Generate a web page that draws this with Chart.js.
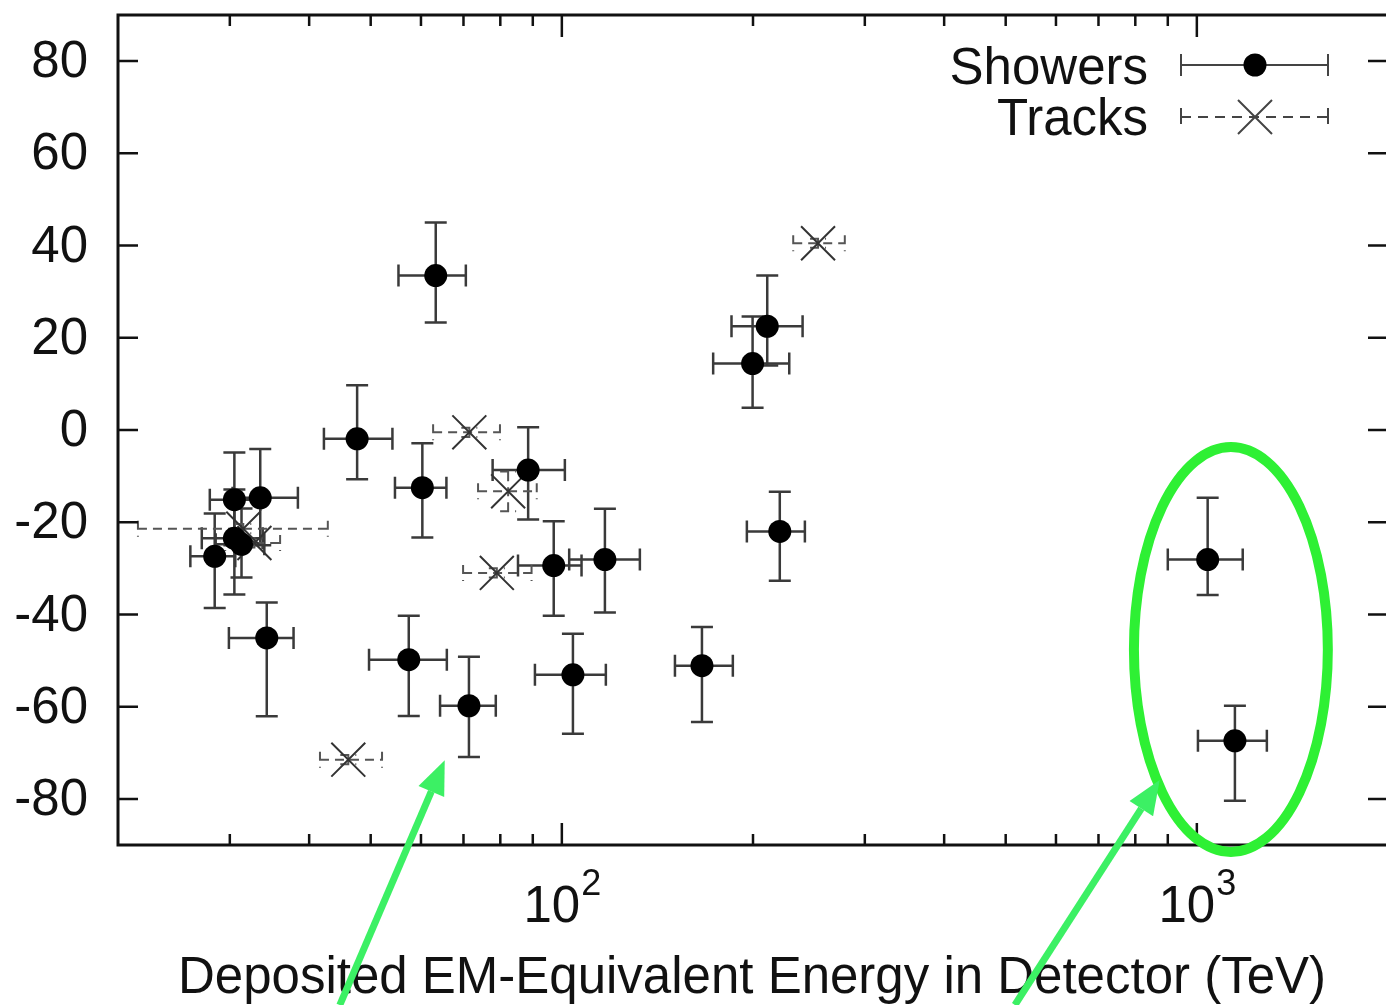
<!DOCTYPE html>
<html>
<head>
<meta charset="utf-8">
<script src="https://cdn.jsdelivr.net/npm/chart.js@4.4.1/dist/chart.umd.min.js"></script>
<style>
  html, body { margin: 0; padding: 0; background: #fff; overflow: hidden; }
</style>
</head>
<body>
<canvas id="c" width="1388" height="1005"></canvas>
<script>
// Showers: deposited energy (TeV) with error range, and y value with error range
const showerE    = [63.3, 47.6, 60.3, 88.5, 97.1, 116.9, 210.6, 199.7, 220.4, 166.2, 104.1, 71.4, 57.4, 34.3, 28.4, 30.5, 33.5, 30.5, 31.3, 1040, 1148];
const showerELo  = [55.3, 42.2, 54.6, 77.8, 85.3, 102.7, 185.0, 173.1, 195.6, 150.7, 90.7, 64.3, 49.7, 29.9, 26.0, 27.9, 30.3, 27.1, 28.5, 900, 1004];
const showerEHi  = [70.6, 54.1, 65.8, 101.1, 107.4, 132.7, 239.4, 228.1, 241.4, 185.9, 117.3, 78.7, 65.9, 37.8, 30.6, 33.5, 38.4, 33.8, 34.0, 1181, 1289];
const showerY    = [33.5, -1.9, -12.5, -8.7, -29.4, -28.1, 22.5, 14.4, -22.0, -51.1, -53.1, -59.8, -49.8, -45.1, -27.4, -15.1, -14.7, -23.5, -24.8, -28.1, -67.4];
const showerYLo  = [23.3, -10.7, -23.3, -19.4, -40.3, -39.6, 14.0, 4.8, -32.7, -63.3, -65.9, -70.9, -62.0, -62.1, -38.6, -25.0, -25.0, -35.7, -32.0, -35.8, -80.4];
const showerYHi  = [45.0, 9.7, -2.9, 0.6, -19.8, -17.1, 33.5, 24.6, -13.4, -42.7, -44.2, -49.2, -40.3, -37.4, -18.1, -4.9, -4.1, -12.9, -17.0, -14.7, -59.8];

// Tracks
const trackE     = [31.5, 32.8, 46.1, 71.5, 82.3, 79.0, 253.2];
const trackELo   = [21.5, 29.5, 41.6, 62.7, 73.8, 69.9, 231.4];
const trackEHi   = [42.8, 36.0, 52.1, 79.9, 91.3, 89.6, 279.0];
const trackY     = [-21.4, -24.5, -71.5, -0.5, -13.3, -31.0, 40.5];
const trackYLo   = [-22.4, -25.5, -72.5, -1.5, -17.6, -32.0, 39.5];
const trackYHi   = [-20.4, -23.5, -70.5, 0.5, -9.0, -30.0, 41.5];

// Axis ticks
const yTicks = [-80, -60, -40, -20, 0, 20, 40, 60, 80];
const xMajorTicks = [100, 1000];
const xMajorExp = ['2', '3'];
const xMinorTicks = [30, 40, 50, 60, 70, 80, 90, 200, 300, 400, 500, 600, 700, 800, 900];

const FONT = '"Liberation Sans", Arial, sans-serif';
const GREEN = '#2ef034';
const ARROW_GREEN = '#3cf064';

function drawBars(ctx, xs, ys, E, ELo, EHi, Y, YLo, YHi, opts) {
  ctx.save();
  ctx.strokeStyle = opts.color;
  ctx.lineWidth = opts.width;
  ctx.setLineDash(opts.dash || []);
  for (let i = 0; i < E.length; i++) {
    const px = xs.getPixelForValue(E[i]);
    const py = ys.getPixelForValue(Y[i]);
    const x0 = xs.getPixelForValue(ELo[i]);
    const x1 = xs.getPixelForValue(EHi[i]);
    const y0 = ys.getPixelForValue(YLo[i]);
    const y1 = ys.getPixelForValue(YHi[i]);
    ctx.beginPath();
    ctx.moveTo(x0, py); ctx.lineTo(x1, py);
    ctx.moveTo(x0, py - opts.cap); ctx.lineTo(x0, py + opts.cap);
    ctx.moveTo(x1, py - opts.cap); ctx.lineTo(x1, py + opts.cap);
    ctx.moveTo(px, y0); ctx.lineTo(px, y1);
    ctx.moveTo(px - opts.cap, y0); ctx.lineTo(px + opts.cap, y0);
    ctx.moveTo(px - opts.cap, y1); ctx.lineTo(px + opts.cap, y1);
    ctx.stroke();
  }
  ctx.restore();
}

function arrow(ctx, x0, y0, x1, y1) {
  const ang = Math.atan2(y1 - y0, x1 - x0);
  const len = 34, hw = 14;
  const bx = x1 - Math.cos(ang) * len, by = y1 - Math.sin(ang) * len;
  ctx.beginPath();
  ctx.moveTo(x0, y0); ctx.lineTo(bx, by);
  ctx.stroke();
  ctx.beginPath();
  ctx.moveTo(x1, y1);
  ctx.lineTo(bx + Math.sin(ang) * hw, by - Math.cos(ang) * hw);
  ctx.lineTo(bx - Math.sin(ang) * hw, by + Math.cos(ang) * hw);
  ctx.closePath();
  ctx.fill();
}

const decor = {
  id: 'decor',
  beforeDatasetsDraw(chart) {
    const { ctx, scales: { x, y } } = chart;
    drawBars(ctx, x, y, showerE, showerELo, showerEHi, showerY, showerYLo, showerYHi,
      { color: '#3a3a3a', width: 2.5, cap: 11 });
    drawBars(ctx, x, y, trackE, trackELo, trackEHi, trackY, trackYLo, trackYHi,
      { color: '#555', width: 2, cap: 8, dash: [9, 6] });
  },
  afterDraw(chart) {
    const { ctx, chartArea: a, scales: { x, y } } = chart;
    ctx.save();
    // frame
    ctx.strokeStyle = '#111';
    ctx.lineWidth = 3;
    ctx.strokeRect(a.left, a.top, a.right - a.left, a.bottom - a.top);
    // inward ticks
    ctx.lineWidth = 2.5;
    ctx.beginPath();
    yTicks.forEach(v => {
      const py = y.getPixelForValue(v);
      ctx.moveTo(a.left, py); ctx.lineTo(a.left + 20, py);
      ctx.moveTo(a.right, py); ctx.lineTo(a.right - 20, py);
    });
    xMajorTicks.forEach(v => {
      const px = x.getPixelForValue(v);
      ctx.moveTo(px, a.bottom); ctx.lineTo(px, a.bottom - 22);
      ctx.moveTo(px, a.top); ctx.lineTo(px, a.top + 22);
    });
    xMinorTicks.forEach(v => {
      const px = x.getPixelForValue(v);
      ctx.moveTo(px, a.bottom); ctx.lineTo(px, a.bottom - 11);
      ctx.moveTo(px, a.top); ctx.lineTo(px, a.top + 11);
    });
    ctx.stroke();

    // tick labels
    ctx.fillStyle = '#111';
    ctx.font = '51px ' + FONT;
    ctx.textAlign = 'right';
    ctx.textBaseline = 'middle';
    yTicks.forEach(v => ctx.fillText(String(v), 88, y.getPixelForValue(v) + 2));
    ctx.textBaseline = 'alphabetic';
    ctx.textAlign = 'left';
    xMajorTicks.forEach((v, i) => {
      const px = x.getPixelForValue(v);
      ctx.font = '51px ' + FONT;
      const w1 = ctx.measureText('10').width;
      ctx.font = '36px ' + FONT;
      const w2 = ctx.measureText(xMajorExp[i]).width;
      const sx = px - (w1 + w2) / 2;
      ctx.font = '51px ' + FONT;
      ctx.fillText('10', sx, 922);
      ctx.font = '36px ' + FONT;
      ctx.fillText(xMajorExp[i], sx + w1 + 1, 895);
    });
    ctx.font = '51px ' + FONT;
    ctx.textAlign = 'center';
    ctx.fillText('Deposited EM-Equivalent Energy in Detector (TeV)', 752, 993);

    // legend
    ctx.textAlign = 'right';
    ctx.fillText('Showers', 1148, 84);
    ctx.fillText('Tracks', 1148, 135);
    ctx.strokeStyle = '#444';
    ctx.lineWidth = 2;
    ctx.beginPath();
    ctx.moveTo(1181, 65); ctx.lineTo(1328, 65);
    ctx.moveTo(1181, 54); ctx.lineTo(1181, 76);
    ctx.moveTo(1328, 54); ctx.lineTo(1328, 76);
    ctx.stroke();
    ctx.fillStyle = '#000';
    ctx.beginPath(); ctx.arc(1255, 65, 11.5, 0, Math.PI * 2); ctx.fill();
    ctx.beginPath();
    ctx.setLineDash([10, 7]);
    ctx.moveTo(1181, 117); ctx.lineTo(1328, 117);
    ctx.stroke();
    ctx.setLineDash([]);
    ctx.beginPath();
    ctx.moveTo(1181, 108); ctx.lineTo(1181, 124);
    ctx.moveTo(1328, 108); ctx.lineTo(1328, 124);
    ctx.moveTo(1238, 100); ctx.lineTo(1272, 134);
    ctx.moveTo(1272, 100); ctx.lineTo(1238, 134);
    ctx.stroke();

    // green annotations
    const ex0 = x.getPixelForValue(796), ex1 = x.getPixelForValue(1608);
    const ey0 = y.getPixelForValue(-3.7), ey1 = y.getPixelForValue(-91.5);
    ctx.strokeStyle = GREEN;
    ctx.lineWidth = 10;
    ctx.beginPath();
    ctx.ellipse((ex0 + ex1) / 2, (ey0 + ey1) / 2, (ex1 - ex0) / 2, (ey1 - ey0) / 2, 0, 0, Math.PI * 2);
    ctx.stroke();
    ctx.strokeStyle = ARROW_GREEN;
    ctx.fillStyle = ARROW_GREEN;
    ctx.lineWidth = 7;
    arrow(ctx, x.getPixelForValue(44.7), y.getPixelForValue(-124.7), x.getPixelForValue(65.4), y.getPixelForValue(-71.6));
    arrow(ctx, x.getPixelForValue(517), y.getPixelForValue(-124.7), x.getPixelForValue(874), y.getPixelForValue(-75.9));
    ctx.restore();
  }
};

new Chart(document.getElementById('c'), {
  type: 'scatter',
  data: {
    datasets: [
      {
        label: 'Showers',
        data: showerE.map((e, i) => ({ x: e, y: showerY[i] })),
        pointStyle: 'circle',
        pointRadius: 11.5,
        backgroundColor: '#000',
        borderWidth: 0,
      },
      {
        label: 'Tracks',
        data: trackE.map((e, i) => ({ x: e, y: trackY[i] })),
        pointStyle: 'crossRot',
        pointRadius: 24,
        borderColor: '#333',
        borderWidth: 2,
      },
    ],
  },
  options: {
    responsive: false,
    animation: false,
    devicePixelRatio: 1,
    layout: { autoPadding: false, padding: { top: 15, right: 0, left: 118, bottom: 160 } },
    plugins: { legend: { display: false }, tooltip: { enabled: false } },
    scales: {
      x: { type: 'logarithmic', min: 20, max: 2000, display: false },
      y: { min: -90, max: 90, display: false },
    },
  },
  plugins: [decor],
});
</script>
</body>
</html>
